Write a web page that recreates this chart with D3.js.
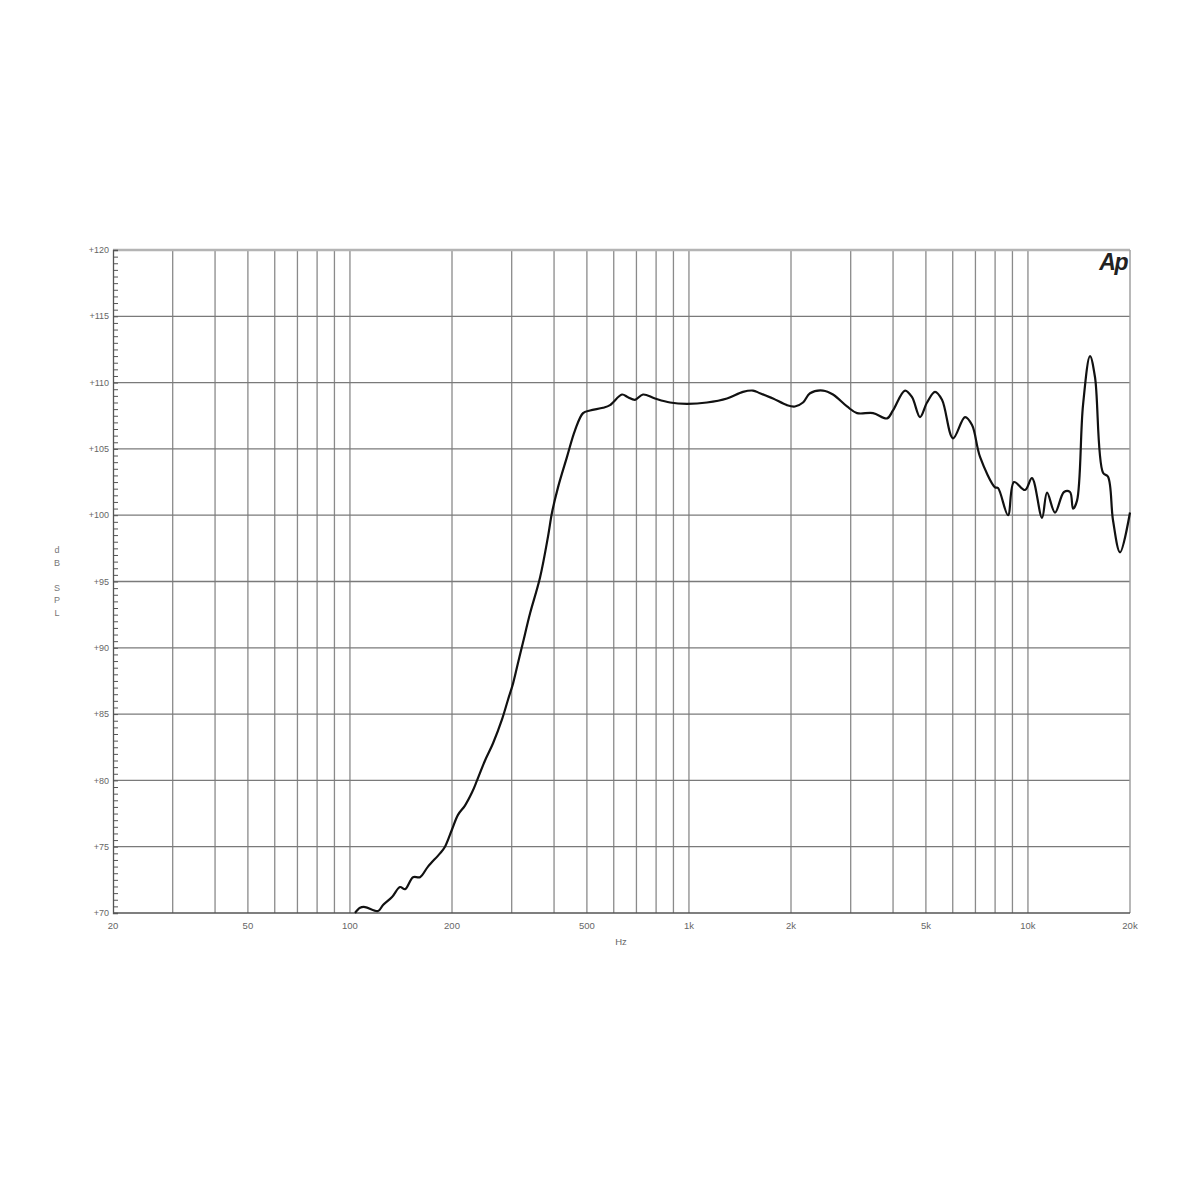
<!DOCTYPE html>
<html>
<head>
<meta charset="utf-8">
<script src="https://cdn.jsdelivr.net/npm/d3@7"></script>
<style>
  html, body { margin: 0; padding: 0; background: #ffffff; }
  svg { display: block; }
</style>
</head>
<body>
<svg id="chart" width="1200" height="1200"></svg>
<script>
// ---- data ----
const freqHz = [103.5,107.1,110.8,121.0,125.2,133.1,140.5,145.4,153.5,160.9,169.9,184.4,190.7,200,208.3,218.4,229.2,237.1,250.3,264.3,280.9,292.7,302.7,313.1,323.9,339.9,363.7,384.0,394.5,410.9,436.8,461.2,487.1,510.7,557.8,585.0,634.5,660.9,693.2,731.8,794.0,879.4,986.8,1130,1295,1443,1545,1620,1770,1946,2054,2170,2276,2486,2660,2926,3132,3492,3840,3998,4339,4551,4805,5038,5319,5578,6012,6521,6840,7222,7998,8160,8734,9098,9800,10276,11002,11384,12018,12774,13306,13582,13956,14536,15242,15770,16652,17228,17824,18690,20000];
const splDb = [70.0,70.4,70.45,70.15,70.6,71.2,71.96,71.8,72.7,72.7,73.5,74.5,75.0,76.3,77.4,78.1,79.1,80.0,81.5,82.8,84.6,86.1,87.3,88.85,90.4,92.6,95.3,98.4,100.2,102.1,104.4,106.4,107.7,107.9,108.1,108.3,109.1,108.9,108.7,109.1,108.8,108.5,108.4,108.5,108.8,109.3,109.4,109.2,108.8,108.3,108.2,108.5,109.2,109.4,109.1,108.2,107.7,107.7,107.3,107.9,109.4,108.9,107.4,108.5,109.3,108.7,105.8,107.4,106.8,104.4,102.1,102.05,100.0,102.5,101.9,102.8,99.8,101.7,100.2,101.75,101.75,100.5,101.1,108.3,112.0,110.4,103.2,102.9,99.6,97.2,100.2];
const gridFreqs = [30,40,50,60,70,80,90,100,200,300,400,500,600,700,800,900,1000,2000,3000,4000,5000,6000,7000,8000,9000,10000];
const xTickValues = [20,50,100,200,500,1000,2000,5000,10000,20000];
const xTickLabels = ["20","50","100","200","500","1k","2k","5k","10k","20k"];
const yTickValues = [70,75,80,85,90,95,100,105,110,115,120];
const yTickLabels = ["+70","+75","+80","+85","+90","+95","+100","+105","+110","+115","+120"];
const yAxisTitle = ["d","B","","S","P","L"];
const xAxisTitle = "Hz";
const logoText = "Ap";

// ---- layout ----
const svg = d3.select("#chart");
const x = d3.scaleLog().domain([20, 20000]).range([113, 1130]);
const y = d3.scaleLinear().domain([70, 120]).range([913, 250]);
const FONT = "'Liberation Sans', Arial, sans-serif";

// vertical gridlines
svg.append("g").selectAll("line").data(gridFreqs).join("line")
  .attr("x1", d => x(d)).attr("x2", d => x(d))
  .attr("y1", y(120)).attr("y2", y(70))
  .attr("stroke", "#8a8a8a").attr("stroke-width", 1.3);

// horizontal gridlines
svg.append("g").selectAll("line").data(yTickValues.filter(v => v > 70 && v < 120)).join("line")
  .attr("x1", x(20)).attr("x2", x(20000))
  .attr("y1", d => y(d)).attr("y2", d => y(d))
  .attr("stroke", "#7a7a7a").attr("stroke-width", 1.3);

// top / right border (light gray)
svg.append("line").attr("x1", x(20)).attr("x2", x(20000)).attr("y1", y(120)).attr("y2", y(120))
  .attr("stroke", "#b4b4b4").attr("stroke-width", 2.5);
svg.append("line").attr("x1", x(20000)).attr("x2", x(20000)).attr("y1", y(120)).attr("y2", y(70))
  .attr("stroke", "#a0a0a0").attr("stroke-width", 1.5);
// bottom border
svg.append("line").attr("x1", x(20)).attr("x2", x(20000)).attr("y1", y(70)).attr("y2", y(70))
  .attr("stroke", "#555").attr("stroke-width", 1.3);

// left axis with minor ticks every 0.5 dB (drawn inward)
const yAxis = d3.axisRight(y).tickValues(d3.range(70, 120.01, 0.5)).tickSize(5).tickFormat("");
const gy = svg.append("g").attr("transform", `translate(${x(20)},0)`).call(yAxis);
gy.select(".domain").attr("stroke", "#555").attr("stroke-width", 1.3);
gy.selectAll(".tick line").attr("stroke", "#555").attr("stroke-width", 1);

// y tick labels
svg.append("g").selectAll("text").data(yTickValues).join("text")
  .attr("x", x(20) - 4).attr("y", d => y(d)).attr("dy", "0.35em")
  .attr("text-anchor", "end").attr("font-family", FONT).attr("font-size", 9)
  .attr("fill", "#666").text((d, i) => yTickLabels[i]);

// x tick labels
svg.append("g").selectAll("text").data(xTickValues).join("text")
  .attr("x", d => x(d)).attr("y", 929)
  .attr("text-anchor", "middle").attr("font-family", FONT).attr("font-size", 9.5)
  .attr("fill", "#666").text((d, i) => xTickLabels[i]);

// axis titles
svg.append("text").attr("x", 621).attr("y", 945).attr("text-anchor", "middle")
  .attr("font-family", FONT).attr("font-size", 9.5).attr("fill", "#666").text(xAxisTitle);
svg.append("g").selectAll("text").data(yAxisTitle).join("text")
  .attr("x", 57).attr("y", (d, i) => 553 + i * 12.5).attr("text-anchor", "middle")
  .attr("font-family", FONT).attr("font-size", 9).attr("fill", "#777").text(d => d);

// logo
svg.append("text").attr("x", 1127).attr("y", 270).attr("text-anchor", "end")
  .attr("font-family", FONT).attr("font-size", 23).attr("font-weight", "bold")
  .attr("font-style", "italic").attr("letter-spacing", -1.5).attr("fill", "#222").text(logoText);

// response curve
const pts = freqHz.map((f, i) => [f, splDb[i]]);
const line = d3.line().x(d => x(d[0])).y(d => y(d[1])).curve(d3.curveCatmullRom.alpha(0.5));
svg.append("path").datum(pts).attr("d", line)
  .attr("fill", "none").attr("stroke", "#111").attr("stroke-width", 2.2)
  .attr("stroke-linejoin", "round");
</script>
</body>
</html>
